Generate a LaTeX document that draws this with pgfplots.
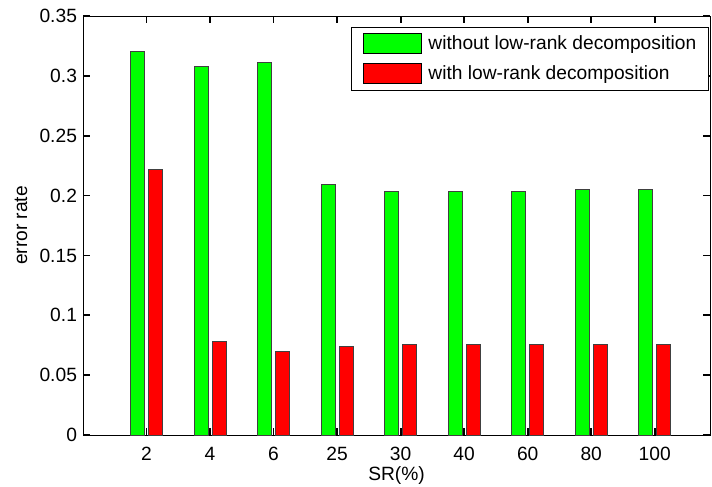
\documentclass[border=0pt]{standalone}
\usepackage{pgfplots}
\pgfplotsset{compat=1.18}
\usepackage{fontspec}
\setmainfont{Liberation Sans}
\begin{document}
\begin{tikzpicture}
\pgfplotsset{
  mylegend/.style={legend image code/.code={\draw[##1,draw=black,line width=0.5pt] (0pt,-5pt) rectangle (29pt,5pt);}}
}
\begin{axis}[
  at={(0,0)}, anchor=south west,
  scale only axis, width=313.5pt, height=209.5pt,
  xmin=0, xmax=9.87, ymin=0, ymax=0.35,
  xtick={1,2,3,4,5,6,7,8,9},
  xticklabels={2,4,6,25,30,40,60,80,100},
  ytick={0,0.05,0.1,0.15,0.2,0.25,0.3,0.35},
  yticklabels={0,0.05,0.1,0.15,0.2,0.25,0.3,0.35},
  tick pos=both,
  tick align=inside,
  major tick length=3.5pt,
  every tick/.style={black, line width=0.9pt},
  major x tick style={black, line width=0.9pt},
  major y tick style={black, line width=0.9pt},
  axis line style={line width=0.5pt},
  font=\fontsize{9.6}{11}\selectfont,
  xticklabel style={yshift=-2.5pt},
  yticklabel style={xshift=0.5pt},
  xlabel={SR(\%)}, ylabel={error rate},
  every axis x label/.style={at={(axis description cs:0.5,-0.0975)}, anchor=center},
  every axis y label/.style={at={(axis description cs:-0.0989,0.5)}, rotate=90, anchor=center},
  legend cell align=left,
  legend style={at={(rel axis cs:0.998,0.974)}, anchor=north east,
    draw=black, line width=0.5pt, fill=white,
    inner xsep=6pt, inner ysep=3pt, row sep=4.35pt,
    nodes={inner sep=0pt},
    /tikz/every odd column/.append style={column sep=3pt}},
]
\addplot[ybar, bar width=7pt, fill={rgb,1:red,0;green,1;blue,0}, draw=black!75, line width=0.5pt, bar shift=-4.5pt, mylegend]
  coordinates {(1,0.320) (2,0.308) (3,0.311) (4,0.209) (5,0.203) (6,0.203) (7,0.203) (8,0.205) (9,0.205)};
\addlegendentry{without low-rank decomposition}
\addplot[ybar, bar width=7pt, fill={rgb,1:red,1;green,0;blue,0}, draw=black!75, line width=0.5pt, bar shift=4.5pt, mylegend]
  coordinates {(1,0.222) (2,0.078) (3,0.070) (4,0.074) (5,0.076) (6,0.076) (7,0.076) (8,0.076) (9,0.076)};
\addlegendentry{with low-rank decomposition}
\end{axis}
\pgfresetboundingbox
\path (-41.5pt,-26pt) rectangle (314.5pt,217.5pt);
\end{tikzpicture}
\end{document}
